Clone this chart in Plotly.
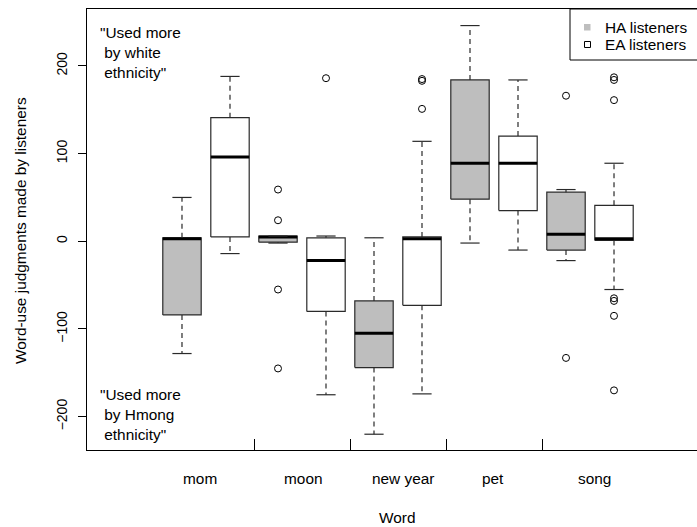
import plotly.graph_objects as go

# Word-use judgments by listener group, one pair of boxes per word
words = ["mom", "moon", "new year", "pet", "song"]
word_label_x = [1.375, 3.53, 5.6, 7.48, 9.6]
separator_ticks = [2.5, 4.5, 6.5, 8.5]
y_ticks = [-200, -100, 0, 100, 200]

# HA listeners (grey boxes): five-number summaries and outliers
ha_lower = [-128, -2, -220, -2, -22]
ha_q1 = [-84, -1, -144, 48, -10]
ha_med = [3, 5, -105, 89, 8]
ha_q3 = [4, 6, -68, 184, 56]
ha_upper = [50, 6, 4, 246, 59]
ha_out = [[], [59, 24, -55, -145], [], [], [166, -133]]

# EA listeners (white boxes)
ea_lower = [-14, -175, -174, -10, -55]
ea_q1 = [5, -80, -73, 35, 1]
ea_med = [96, -22, 3, 89, 3]
ea_q3 = [141, 4, 5, 120, 41]
ea_upper = [188, 6, 114, 184, 89]
ea_out = [[], [186], [151, 183, 185], [], [187, 184, 161, -65, -68, -85, -170]]

HA_FILL = "#BEBEBE"
EA_FILL = "#FFFFFF"
BORDER = "#2a2a2a"
FONT = "Liberation Sans, Arial, sans-serif"
FS = 15.4

W, H = 697, 527
L, R, T, B = 87, 697, 9, 450


def px(x):
    return (x - L) / (R - L)


def py(y):
    return (B - y) / (B - T)


fig = go.Figure()

half = 0.4      # half box width
staple = 0.2    # half staple width

boxes = []
for i in range(len(words)):
    boxes.append((2 * i + 1, HA_FILL, ha_lower[i], ha_q1[i], ha_med[i], ha_q3[i], ha_upper[i], ha_out[i]))
    boxes.append((2 * i + 2, EA_FILL, ea_lower[i], ea_q1[i], ea_med[i], ea_q3[i], ea_upper[i], ea_out[i]))

wx, wy, sx, sy = [], [], [], []
ox, oy = [], []
for pos, fill, lo, q1, med, q3, hi, outs in boxes:
    # box body
    fig.add_trace(go.Scatter(
        x=[pos - half, pos + half, pos + half, pos - half, pos - half],
        y=[q1, q1, q3, q3, q1],
        mode="lines", fill="toself", fillcolor=fill,
        line=dict(color=BORDER, width=1.2), hoverinfo="skip", showlegend=False))
    # median
    fig.add_trace(go.Scatter(
        x=[pos - half, pos + half], y=[med, med], mode="lines",
        line=dict(color="black", width=3), hoverinfo="skip", showlegend=False))
    # whiskers
    wx += [pos, pos, None, pos, pos, None]
    wy += [q3, hi, None, q1, lo, None]
    # staples
    sx += [pos - staple, pos + staple, None, pos - staple, pos + staple, None]
    sy += [hi, hi, None, lo, lo, None]
    ox += [pos] * len(outs)
    oy += outs

fig.add_trace(go.Scatter(x=wx, y=wy, mode="lines",
                         line=dict(color=BORDER, width=1.2, dash="5px,4px"),
                         hoverinfo="skip", showlegend=False))
fig.add_trace(go.Scatter(x=sx, y=sy, mode="lines",
                         line=dict(color=BORDER, width=1.2),
                         hoverinfo="skip", showlegend=False))
fig.add_trace(go.Scatter(x=ox, y=oy, mode="markers",
                         marker=dict(symbol="circle-open", size=7, color="black",
                                     line=dict(width=1)),
                         hoverinfo="skip", showlegend=False))

annotations = []
for name, xv in zip(words, word_label_x):
    annotations.append(dict(x=xv, xref="x", y=py(479), yref="paper", text=name,
                            showarrow=False, xanchor="center", yanchor="middle",
                            font=dict(size=FS, color="black", family=FONT)))

annotations += [
    dict(x=px(397), xref="paper", y=py(517), yref="paper", text="Word",
         showarrow=False, xanchor="center", yanchor="middle",
         font=dict(size=FS, color="black", family=FONT)),
    dict(x=px(20), xref="paper", y=py(231), yref="paper",
         text="Word-use judgments made by listeners", textangle=-90,
         showarrow=False, xanchor="center", yanchor="middle",
         font=dict(size=FS, color="black", family=FONT)),
    dict(x=-0.75, xref="x", y=215.0, yref="y",
         text="\"Used more<br>\u00a0by white<br>\u00a0ethnicity\"",
         showarrow=False, xanchor="left", yanchor="middle", align="left",
         font=dict(size=FS, color="black", family=FONT)),
    dict(x=-0.75, xref="x", y=-197.4, yref="y",
         text="\"Used more<br>\u00a0by Hmong<br>\u00a0ethnicity\"",
         showarrow=False, xanchor="left", yanchor="middle", align="left",
         font=dict(size=FS, color="black", family=FONT)),
    dict(x=px(603), xref="paper", y=py(27.5), yref="paper", text="HA listeners",
         showarrow=False, xanchor="left", yanchor="middle",
         font=dict(size=FS, color="black", family=FONT)),
    dict(x=px(603), xref="paper", y=py(44.5), yref="paper", text="EA listeners",
         showarrow=False, xanchor="left", yanchor="middle",
         font=dict(size=FS, color="black", family=FONT)),
]

shapes = [
    # legend frame
    dict(type="rect", xref="paper", yref="paper", x0=px(570), x1=px(720),
         y0=py(60), y1=py(9), line=dict(color="black", width=1),
         fillcolor="white", layer="above"),
    dict(type="rect", xref="paper", yref="paper", x0=px(584), x1=px(590.5),
         y0=py(30.5), y1=py(24), line=dict(width=0), fillcolor=HA_FILL, layer="above"),
    dict(type="rect", xref="paper", yref="paper", x0=px(584.5), x1=px(590.5),
         y0=py(47.5), y1=py(41.5), line=dict(color="black", width=1),
         fillcolor="white", layer="above"),
]

fig.update_layout(
    width=W, height=H,
    margin=dict(l=L, r=W - R, t=T, b=H - B),
    paper_bgcolor="white", plot_bgcolor="white",
    font=dict(family=FONT, size=FS, color="black"),
    showlegend=False,
    annotations=annotations,
    shapes=shapes,
    xaxis=dict(range=[-0.979, 11.729], tickvals=separator_ticks,
               ticktext=[""] * len(separator_ticks),
               ticks="inside", ticklen=11, tickwidth=1, tickcolor="black",
               showline=True, linecolor="black", linewidth=1, mirror=True,
               showgrid=False, zeroline=False, fixedrange=True),
    yaxis=dict(range=[-238.0, 264.9], tickvals=y_ticks,
               ticks="outside", ticklen=8, tickwidth=1, tickcolor="black",
               tickangle=-90, ticklabelstandoff=5,
               tickfont=dict(size=14, color="black", family=FONT),
               showline=True, linecolor="black", linewidth=1, mirror=False,
               showgrid=False, zeroline=False, fixedrange=True),
)

fig.write_html("out.html")
